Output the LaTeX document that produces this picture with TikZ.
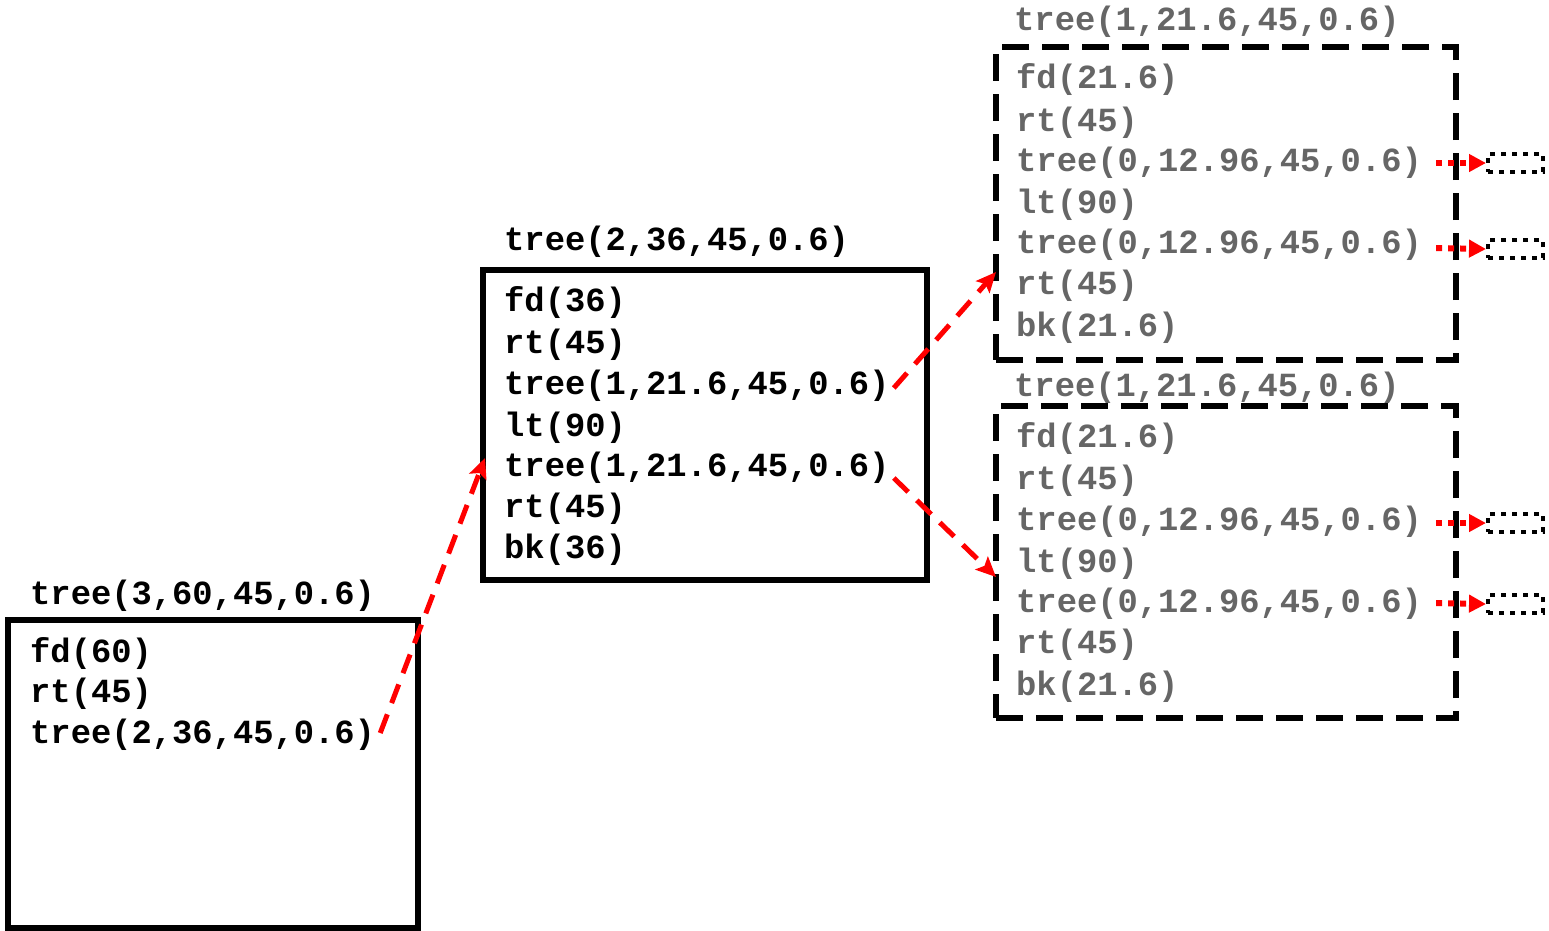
\documentclass[tikz,border=0pt]{standalone}
\usepackage{fontspec}
\setmonofont{Liberation Mono}
\usetikzlibrary{arrows.meta,calc}
\begin{document}
\begin{tikzpicture}[x=1pt,y=-1pt,
  txt/.style={anchor=west,inner sep=0pt,font=\ttfamily\bfseries\fontsize{33.8}{40}\selectfont},
  gtxt/.style={txt,text=black!60},
  solidbox/.style={draw,line width=5.5pt,inner sep=0pt},
  dashbox/.style={draw,line width=6pt,dash pattern=on 27pt off 13pt,inner sep=0pt},
  redarrow/.style={draw=red,line width=5pt,dash pattern=on 20pt off 12pt,-{Stealth[length=20pt,width=18pt,inset=4pt]}},
  dotarrow/.style={draw=red,line width=6pt,dash pattern=on 6pt off 6pt,-{Triangle[length=17pt,width=17pt]}},
  minibox/.style={draw,line width=4pt,dash pattern=on 5pt off 6pt,minimum width=55pt,minimum height=18pt,inner sep=0pt}]
\useasboundingbox (0,0) rectangle (1549,930);
% boxes
\node[solidbox,minimum width=410pt,minimum height=308pt] (b1) at (213,774) {};
\node[solidbox,minimum width=444pt,minimum height=310pt] (b2) at (705,425) {};
\node[dashbox,minimum width=460pt,minimum height=313pt] (b3) at (1226,203.5) {};
\node[dashbox,minimum width=460pt,minimum height=312pt] (b4) at (1226,562) {};
% box 1
\node[txt] (b1h) at (30,596) {tree(3,60,45,0.6)};
\node[txt] (b1a) at (30,653) {fd(60)};
\node[txt] (b1b) at (30,694) {rt(45)};
\node[txt] (b1c) at (30,735) {tree(2,36,45,0.6)};
% box 2
\node[txt] (b2h) at (504,242) {tree(2,36,45,0.6)};
\node[txt] (b2a) at (504,303) {fd(36)};
\node[txt] (b2b) at (504,345) {rt(45)};
\node[txt] (b2c) at (504,386) {tree(1,21.6,45,0.6)};
\node[txt] (b2d) at (504,428) {lt(90)};
\node[txt] (b2e) at (504,468) {tree(1,21.6,45,0.6)};
\node[txt] (b2f) at (504,509) {rt(45)};
\node[txt] (b2g) at (504,550) {bk(36)};
% box 3
\node[gtxt] (b3h) at (1014,22) {tree(1,21.6,45,0.6)};
\node[gtxt] (b3a) at (1016,80) {fd(21.6)};
\node[gtxt] (b3b) at (1016,123) {rt(45)};
\node[gtxt] (b3c) at (1016,163) {tree(0,12.96,45,0.6)};
\node[gtxt] (b3d) at (1016,205) {lt(90)};
\node[gtxt] (b3e) at (1016,245) {tree(0,12.96,45,0.6)};
\node[gtxt] (b3f) at (1016,286) {rt(45)};
\node[gtxt] (b3g) at (1016,328) {bk(21.6)};
% box 4
\node[gtxt] (b4h) at (1014,388) {tree(1,21.6,45,0.6)};
\node[gtxt] (b4a) at (1016,439) {fd(21.6)};
\node[gtxt] (b4b) at (1016,481) {rt(45)};
\node[gtxt] (b4c) at (1016,522) {tree(0,12.96,45,0.6)};
\node[gtxt] (b4d) at (1016,564) {lt(90)};
\node[gtxt] (b4e) at (1016,604) {tree(0,12.96,45,0.6)};
\node[gtxt] (b4f) at (1016,645) {rt(45)};
\node[gtxt] (b4g) at (1016,687) {bk(21.6)};
% mini boxes
\node[minibox] (m1) at (1515.5,163) {};
\node[minibox] (m2) at (1515.5,249) {};
\node[minibox] (m3) at (1515.5,523) {};
\node[minibox] (m4) at (1515.5,604) {};
% tip coordinates
\coordinate (t1) at (485,458);
\coordinate (t2) at (996,272);
\coordinate (t3) at (996,577);
% arrows
\draw[redarrow] ($(b1c.east)+(5,-2)$) -- (t1);
\draw[redarrow] ($(b2c.east)+(4,2)$) -- (t2);
\draw[redarrow] ($(b2e.east)+(4,10)$) -- (t3);
\draw[dotarrow] ($(b3c.east)+(14,0)$) -- (m1.west);
\draw[dotarrow] ($(b3e.east)+(14,3)$) -- (m2.west);
\draw[dotarrow] ($(b4c.east)+(14,1)$) -- (m3.west);
\draw[dotarrow] ($(b4e.east)+(14,-1)$) -- (m4.west);
\end{tikzpicture}
\end{document}
